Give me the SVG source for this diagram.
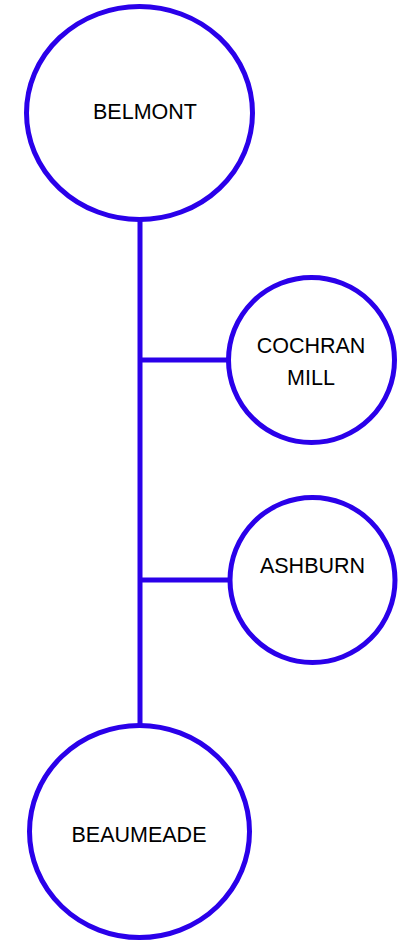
<svg xmlns="http://www.w3.org/2000/svg" width="398" height="941" viewBox="0 0 398 941">
<style>
.n{fill:#fff;stroke:#2A00EA;stroke-width:5}
.c{stroke:#2A00EA;stroke-width:5;fill:none}
text{font-family:"Liberation Sans",Arial,sans-serif;font-size:21.5px;fill:#000;text-anchor:middle}
</style>
<rect width="398" height="941" fill="#fff"/>
<g id="connectors">
<line class="c" x1="140" y1="220" x2="140" y2="726"/>
<line class="c" x1="140" y1="360" x2="229" y2="360"/>
<line class="c" x1="140" y1="580" x2="231" y2="580"/>
</g>
<g id="belmont">
<ellipse class="n" cx="139.5" cy="113" rx="113" ry="106.5"/>
<text x="145" y="119">BELMONT</text>
</g>
<g id="cochran-mill">
<ellipse class="n" cx="311.5" cy="360" rx="83" ry="82.5"/>
<text x="311" y="353">COCHRAN</text>
<text x="311" y="385">MILL</text>
</g>
<g id="ashburn">
<ellipse class="n" cx="312.5" cy="580" rx="82.5" ry="82.5"/>
<text x="312.5" y="573">ASHBURN</text>
</g>
<g id="beaumeade">
<ellipse class="n" cx="139.5" cy="831.5" rx="110" ry="106"/>
<text x="139" y="842">BEAUMEADE</text>
</g>
</svg>
